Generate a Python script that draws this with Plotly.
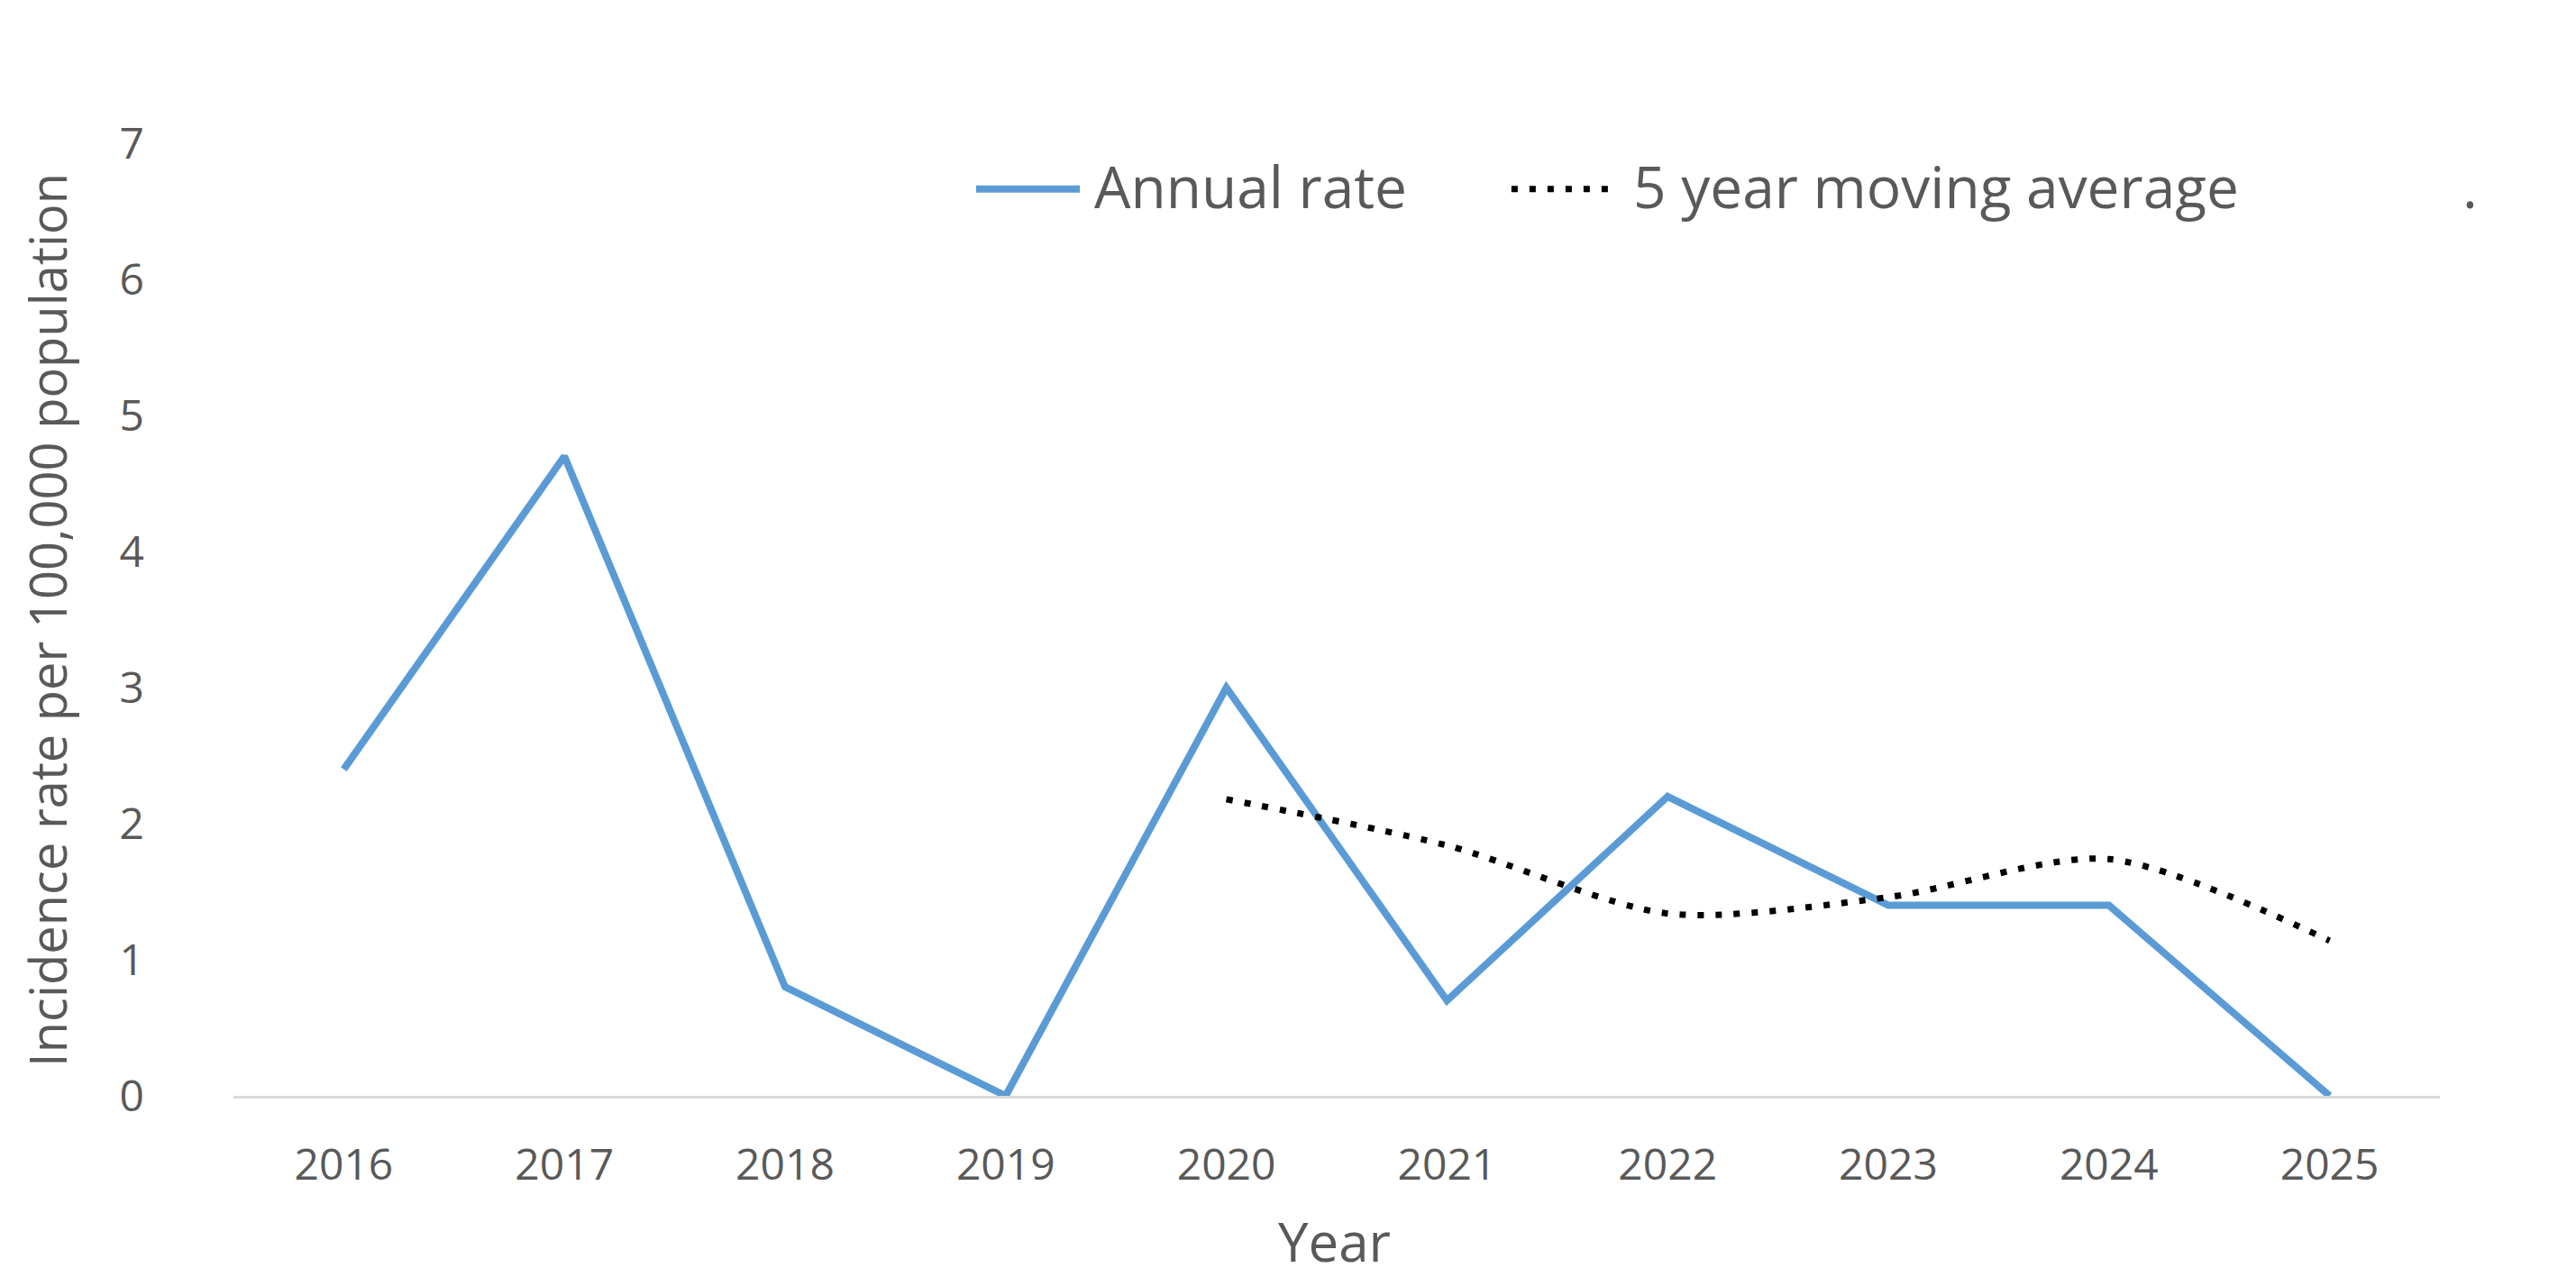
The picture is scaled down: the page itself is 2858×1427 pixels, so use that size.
import plotly.graph_objects as go

years = ["2016", "2017", "2018", "2019", "2020", "2021", "2022", "2023", "2024", "2025"]
annual_rate = [2.4, 4.7, 0.8, 0.0, 3.0, 0.7, 2.2, 1.4, 1.4, 0.0]
avg_years = ["2020", "2021", "2022", "2023", "2024", "2025"]
moving_avg = [2.18, 1.84, 1.34, 1.46, 1.74, 1.14]

blue = "#5b9bd5"
grey_text = "#595959"
font = "Open Sans"

fig = go.Figure()
fig.add_trace(go.Scatter(x=years, y=annual_rate, mode="lines", name="Annual rate",
                         line=dict(color=blue, width=8)))
fig.add_trace(go.Scatter(x=avg_years, y=moving_avg, mode="lines", name="5 year moving average",
                         line=dict(color="black", width=7, dash="7px,13px", shape="spline", smoothing=0.8)))

# hand made legend so the symbol length matches the original
legend_y = 0.952
fig.add_shape(type="line", xref="paper", yref="paper", x0=0.3366, x1=0.3836, y0=legend_y, y1=legend_y,
              line=dict(color=blue, width=8))
fig.add_shape(type="line", xref="paper", yref="paper", x0=0.5792, x1=0.6279, y0=legend_y, y1=legend_y,
              line=dict(color="black", width=7, dash="7px,13px"))
fig.add_annotation(text="Annual rate", xref="paper", yref="paper", x=0.3893, y=legend_y + 0.003,
                   xanchor="left", yanchor="middle", showarrow=False,
                   font=dict(family=font, size=64, color=grey_text))
fig.add_annotation(text="5 year moving average", xref="paper", yref="paper", x=0.6336, y=legend_y + 0.003,
                   xanchor="left", yanchor="middle", showarrow=False,
                   font=dict(family=font, size=64, color=grey_text))
fig.add_annotation(text=".", xref="paper", yref="paper", x=1.0135, y=legend_y + 0.003,
                   xanchor="center", yanchor="middle", showarrow=False,
                   font=dict(family=font, size=64, color=grey_text))

# axis titles
fig.add_annotation(text="Year", xref="paper", yref="paper", x=0.499, y=-0.152,
                   xanchor="center", yanchor="middle", showarrow=False,
                   font=dict(family=font, size=60, color=grey_text))
fig.add_annotation(text="Incidence rate per 100,000 population", xref="paper", yref="paper",
                   x=-0.0846, y=0.4995, textangle=-90, xanchor="center", yanchor="middle",
                   showarrow=False, font=dict(family=font, size=56, color=grey_text))

fig.update_layout(
    width=2850, height=1419,
    margin=dict(l=251, r=151, t=151, b=211),
    plot_bgcolor="white", paper_bgcolor="white",
    showlegend=False,
    font=dict(family=font, color=grey_text),
)
fig.update_xaxes(type="category", range=[-0.5, 9.5], showgrid=False, zeroline=False,
                 showline=True, linecolor="#d9d9d9", linewidth=3,
                 tickfont=dict(size=48, color=grey_text), ticklabelstandoff=32)
fig.update_yaxes(range=[0, 7], dtick=1, showgrid=False, zeroline=False, showline=False,
                 tickfont=dict(size=48, color=grey_text), ticklabelstandoff=98)

fig.write_html("out.html")
